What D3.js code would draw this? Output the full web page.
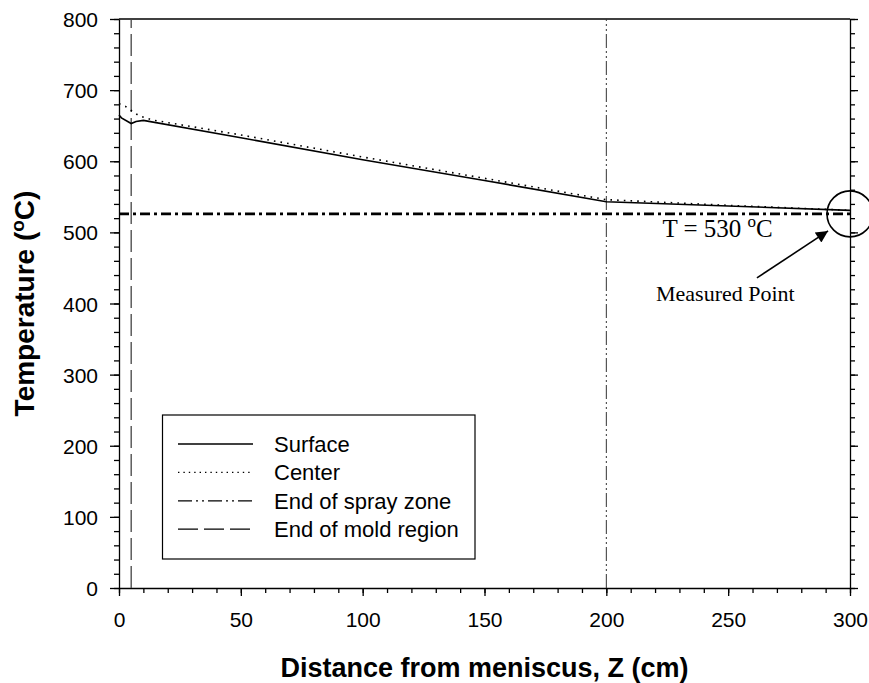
<!DOCTYPE html>
<html>
<head>
<meta charset="UTF-8">
<title>Temperature vs distance from meniscus</title>
<script src="https://d3js.org/d3.v7.min.js"></script>
<style>
    body, html { margin: 0; padding: 0; background: #fff; }
    .tick text { font-family: Arial, "Liberation Sans", sans-serif; font-size: 21px; fill: #000; }
    .domain, .tick line { stroke: #000; stroke-width: 1.3; }
</style>
</head>
<body>
<div id="chart"></div>
<script>
    // data
    const surfaceZ = [0, 1, 5, 7, 10, 50, 100, 150, 200, 250, 300];
    const surfaceT = [665, 661, 653, 656, 657.5, 633, 602, 573, 543, 537, 531];
    const centerZ = [0, 2.7, 5.2, 8.2, 13.7, 50, 100, 150, 200, 250, 300];
    const centerT = [681, 677, 671, 664, 658, 637, 606, 576, 546, 538, 531];
    const moldEndZ = 5;
    const sprayEndZ = 200;
    const measuredT = 526;
    const xTicks = [0, 50, 100, 150, 200, 250, 300];
    const yTicks = [0, 100, 200, 300, 400, 500, 600, 700, 800];
    const legendLabels = ["Surface", "Center", "End of spray zone", "End of mold region"];

    const width = 869, height = 683;
    const svg = d3.select("#chart").append("svg")
        .attr("width", width)
        .attr("height", height);

    const x = d3.scaleLinear().domain([0, 300]).range([119, 850]);
    const y = d3.scaleLinear().domain([0, 800]).range([588, 19]);

    // axes
    const minorX = d3.range(0, 301, 10);
    const minorY = d3.range(0, 801, 20);

    svg.append("g").attr("transform", "translate(0,588)")
        .call(d3.axisBottom(x).tickValues(minorX).tickSize(5).tickFormat(""))
        .call(g => g.select(".domain").remove());
    svg.append("g").attr("transform", "translate(0,588)")
        .call(d3.axisBottom(x).tickValues(xTicks).tickSize(8).tickSizeOuter(0).tickPadding(31))
        .call(g => g.selectAll(".tick text").attr("dy", null));

    svg.append("g").attr("transform", "translate(119,0)")
        .call(d3.axisLeft(y).tickValues(minorY).tickSize(5).tickFormat(""))
        .call(g => g.select(".domain").remove());
    svg.append("g").attr("transform", "translate(119,0)")
        .call(d3.axisLeft(y).tickValues(yTicks).tickSize(9).tickSizeOuter(0).tickPadding(12))
        .call(g => g.selectAll(".tick text").attr("dy", "0.36em"));

    svg.append("g").attr("transform", "translate(850,0)")
        .call(d3.axisRight(y).tickValues(minorY).tickSize(5).tickFormat(""))
        .call(g => g.select(".domain").remove());
    svg.append("g").attr("transform", "translate(850,0)")
        .call(d3.axisRight(y).tickValues(yTicks).tickSize(8).tickSizeOuter(0).tickFormat(""));

    // top frame
    svg.append("line")
        .attr("x1", x(0)).attr("x2", x(300))
        .attr("y1", y(800)).attr("y2", y(800))
        .attr("stroke", "#000").attr("stroke-width", 1.3);

    // axis titles
    svg.append("text")
        .attr("x", (x(0) + x(300)) / 2).attr("y", 677)
        .attr("text-anchor", "middle")
        .style("font-family", "Arial, 'Liberation Sans', sans-serif")
        .style("font-weight", "bold").style("font-size", "27px")
        .text("Distance from meniscus, Z (cm)");

    const yTitle = svg.append("text")
        .attr("transform", "translate(34," + ((y(0) + y(800)) / 2) + ") rotate(-90)")
        .attr("text-anchor", "middle")
        .style("font-family", "Arial, 'Liberation Sans', sans-serif")
        .style("font-weight", "bold").style("font-size", "28px");
    yTitle.append("tspan").text("Temperature (");
    yTitle.append("tspan").attr("dy", -10).style("font-size", "19px").text("o");
    yTitle.append("tspan").attr("dy", 10).text("C)");

    // reference lines
    svg.append("line")
        .attr("x1", x(moldEndZ)).attr("x2", x(moldEndZ))
        .attr("y1", y(0)).attr("y2", y(800))
        .attr("stroke", "#444").attr("stroke-width", 1.3)
        .attr("stroke-dasharray", "22,6");

    svg.append("line")
        .attr("x1", x(sprayEndZ)).attr("x2", x(sprayEndZ))
        .attr("y1", y(0)).attr("y2", y(800))
        .attr("stroke", "#333").attr("stroke-width", 1)
        .attr("stroke-dasharray", "14,3,2,3,2,3");

    svg.append("line")
        .attr("x1", x(0)).attr("x2", x(300))
        .attr("y1", y(measuredT)).attr("y2", y(measuredT))
        .attr("stroke", "#000").attr("stroke-width", 2.6)
        .attr("stroke-dasharray", "10,4,3,4");

    // temperature curves
    const line = d3.line().x(d => x(d[0])).y(d => y(d[1]));

    svg.append("path")
        .datum(d3.zip(centerZ, centerT))
        .attr("d", line)
        .attr("fill", "none").attr("stroke", "#000")
        .attr("stroke-width", 1.6).attr("stroke-dasharray", "1.6,5.1");

    svg.append("path")
        .datum(d3.zip(surfaceZ, surfaceT))
        .attr("d", line)
        .attr("fill", "none").attr("stroke", "#000")
        .attr("stroke-width", 1.6);

    // measured point annotation
    svg.append("circle")
        .attr("cx", x(300)).attr("cy", y(measuredT)).attr("r", 23)
        .attr("fill", "none").attr("stroke", "#000").attr("stroke-width", 1.6);

    svg.append("defs").append("marker")
        .attr("id", "arrow").attr("viewBox", "0 0 10 10")
        .attr("refX", 10).attr("refY", 5)
        .attr("markerWidth", 16).attr("markerHeight", 12)
        .attr("markerUnits", "userSpaceOnUse")
        .attr("orient", "auto")
        .append("path").attr("d", "M0,0 L10,5 L0,10 Z").attr("fill", "#000");

    svg.append("line")
        .attr("x1", x(261.8)).attr("y1", y(436))
        .attr("x2", x(291)).attr("y2", y(502))
        .attr("stroke", "#000").attr("stroke-width", 1.6)
        .attr("marker-end", "url(#arrow)");

    const tLabel = svg.append("text")
        .attr("x", x(223)).attr("y", y(493.5))
        .style("font-family", "'Liberation Serif', 'Times New Roman', serif")
        .style("font-size", "25px");
    tLabel.append("tspan").text("T = 530 ");
    tLabel.append("tspan").attr("dy", -10).style("font-size", "17px").text("o");
    tLabel.append("tspan").attr("dy", 10).text("C");

    svg.append("text")
        .attr("x", x(220.4)).attr("y", y(404))
        .style("font-family", "'Liberation Serif', 'Times New Roman', serif")
        .style("font-size", "22px")
        .text("Measured Point");

    // legend
    const legend = svg.append("g");
    legend.append("rect")
        .attr("x", 162.5).attr("y", 415)
        .attr("width", 312.5).attr("height", 144)
        .attr("fill", "#fff").attr("stroke", "#000").attr("stroke-width", 1.2);

    const legendDash = [null, "1.4,4", "14,4,2,4,2,4", "20,6"];
    legendLabels.forEach((label, i) => {
        const rowY = 444 + i * 28.4;
        legend.append("line")
            .attr("x1", 178).attr("x2", 253)
            .attr("y1", rowY).attr("y2", rowY)
            .attr("stroke", "#000").attr("stroke-width", i === 1 ? 1.4 : 1.3)
            .attr("stroke-dasharray", legendDash[i]);
        legend.append("text")
            .attr("x", 274).attr("y", rowY + 7.8)
            .style("font-family", "Arial, 'Liberation Sans', sans-serif")
            .style("font-size", "22px")
            .text(label);
    });
</script>
</body>
</html>
